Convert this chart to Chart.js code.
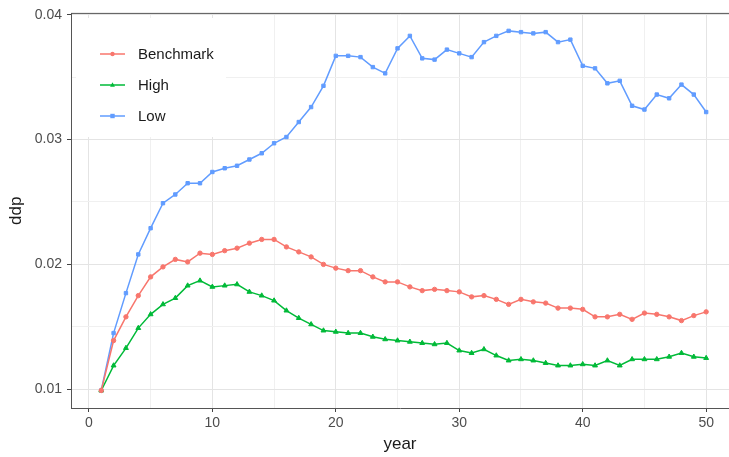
<!DOCTYPE html>
<html lang="en">
<head>
    <meta charset="UTF-8">
    <title>ddp by year</title>
    <script src="https://cdn.jsdelivr.net/npm/chart.js"></script>
    <style>
        body { margin: 0; background: #fff; }
        canvas { display: block; }
    </style>
</head>
<body>
    <canvas id="ddpChart" width="729" height="457"></canvas>
    <script>
        const years = [1,2,3,4,5,6,7,8,9,10,11,12,13,14,15,16,17,18,19,20,
                       21,22,23,24,25,26,27,28,29,30,31,32,33,34,35,36,37,38,39,40,
                       41,42,43,44,45,46,47,48,49,50];

        const benchmark = [0.0099,0.0139,0.0158,0.0175,0.0190,0.0198,0.0204,0.0202,0.0209,0.0208,
                           0.0211,0.0213,0.0217,0.0220,0.0220,0.0214,0.0210,0.0206,0.0200,0.0197,
                           0.0195,0.0195,0.0190,0.0186,0.0186,0.0182,0.0179,0.0180,0.0179,0.0178,
                           0.0174,0.0175,0.0172,0.0168,0.0172,0.0170,0.0169,0.0165,0.0165,0.0164,
                           0.0158,0.0158,0.0160,0.0156,0.0161,0.0160,0.0158,0.0155,0.0159,0.0162];

        const high = [0.0099,0.0119,0.0133,0.0149,0.0160,0.0168,0.0173,0.0183,0.0187,0.0182,
                      0.0183,0.0184,0.0178,0.0175,0.0171,0.0163,0.0157,0.0152,0.0147,0.0146,
                      0.0145,0.0145,0.0142,0.0140,0.0139,0.0138,0.0137,0.0136,0.0137,0.0131,
                      0.0129,0.0132,0.0127,0.0123,0.0124,0.0123,0.0121,0.0119,0.0119,0.0120,
                      0.0119,0.0123,0.0119,0.0124,0.0124,0.0124,0.0126,0.0129,0.0126,0.0125];

        const low = [0.0099,0.0145,0.0177,0.0208,0.0229,0.0249,0.0256,0.0265,0.0265,0.0274,
                     0.0277,0.0279,0.0284,0.0289,0.0297,0.0302,0.0314,0.0326,0.0343,0.0367,
                     0.0367,0.0366,0.0358,0.0353,0.0373,0.0383,0.0365,0.0364,0.0372,0.0369,
                     0.0366,0.0378,0.0383,0.0387,0.0386,0.0385,0.0386,0.0378,0.0380,0.0359,
                     0.0357,0.0345,0.0347,0.0327,0.0324,0.0336,0.0333,0.0344,0.0336,0.0322];

        const seriesNames = ['Benchmark', 'High', 'Low'];
        const seriesColors = ['#F8766D', '#00BA38', '#619CFF'];
        const yTicks = [0.01, 0.02, 0.03, 0.04];

        const FONT = "'Liberation Sans', Arial, sans-serif";

        function toPoints(vals) {
            return years.map((y, i) => ({ x: y, y: vals[i] }));
        }

        function makeSet(i, vals, style, radius) {
            return {
                label: seriesNames[i],
                data: toPoints(vals),
                borderColor: seriesColors[i],
                backgroundColor: seriesColors[i],
                borderWidth: 1.5,
                tension: 0,
                pointStyle: style,
                pointRadius: radius,
                pointBorderWidth: 1,
                pointHoverRadius: radius
            };
        }

        // ggplot-style legend drawn inside the panel, top-left
        function drawMarker(ctx, style, x, y, r) {
            ctx.beginPath();
            if (style === 'circle') {
                ctx.arc(x, y, r, 0, Math.PI * 2);
            } else if (style === 'triangle') {
                ctx.moveTo(x, y - r * 1.2);
                ctx.lineTo(x + r * 1.1, y + r * 0.8);
                ctx.lineTo(x - r * 1.1, y + r * 0.8);
                ctx.closePath();
            } else {
                ctx.rect(x - r, y - r, r * 2, r * 2);
            }
            ctx.fill();
        }

        const insideLegend = {
            id: 'insideLegend',
            beforeDatasetsDraw(chart) {
                const ctx = chart.ctx;
                ctx.save();
                ctx.fillStyle = '#fff';
                ctx.fillRect(76, 18, 150, 119);
                chart.data.datasets.forEach((ds, i) => {
                    const y = 54 + i * 31;
                    ctx.strokeStyle = ds.borderColor;
                    ctx.fillStyle = ds.borderColor;
                    ctx.lineWidth = 1.5;
                    ctx.beginPath();
                    ctx.moveTo(100, y);
                    ctx.lineTo(125, y);
                    ctx.stroke();
                    drawMarker(ctx, ds.pointStyle, 112.5, y, 2.2);
                    ctx.fillStyle = '#1a1a1a';
                    ctx.font = '15px ' + FONT;
                    ctx.textBaseline = 'middle';
                    ctx.textAlign = 'left';
                    ctx.fillText(ds.label, 138, y + 1);
                });
                ctx.restore();
            },
            afterDraw(chart) {
                // top edge of the panel border
                const a = chart.chartArea;
                const ctx = chart.ctx;
                ctx.save();
                ctx.strokeStyle = '#555';
                ctx.lineWidth = 1;
                ctx.beginPath();
                ctx.moveTo(a.left, a.top);
                ctx.lineTo(a.right, a.top);
                ctx.stroke();
                ctx.restore();
            }
        };

        const ctx = document.getElementById('ddpChart').getContext('2d');
        new Chart(ctx, {
            type: 'line',
            data: {
                datasets: [
                    makeSet(0, benchmark, 'circle', 2.2),
                    makeSet(1, high, 'triangle', 2.8),
                    makeSet(2, low, 'rect', 2.4)
                ]
            },
            options: {
                responsive: false,
                animation: false,
                events: [],
                layout: { autoPadding: false, padding: { top: 11, right: 0, bottom: 0, left: 0 } },
                plugins: { legend: { display: false }, tooltip: { enabled: false } },
                scales: {
                    x: {
                        type: 'linear',
                        min: -1.45,
                        max: 51.85,
                        afterBuildTicks: (s) => { s.ticks = [0,5,10,15,20,25,30,35,40,45,50].map(v => ({ value: v })); },
                        afterFit: (s) => { s.height = 49; },
                        border: { display: true, color: '#555', width: 1 },
                        grid: {
                            color: (c) => (c.tick && c.tick.value % 10 === 0) ? '#E4E4E4' : '#F0F0F0',
                            lineWidth: 1,
                            tickLength: 4,
                            tickColor: (c) => (c.tick && c.tick.value % 10 === 0) ? '#444' : 'rgba(0,0,0,0)'
                        },
                        ticks: {
                            autoSkip: false,
                            maxRotation: 0,
                            padding: 3,
                            color: '#4D4D4D',
                            font: { family: FONT, size: 14 },
                            callback: (v) => (v % 10 === 0 ? String(v) : '')
                        },
                        title: {
                            display: true,
                            text: 'year',
                            color: '#1a1a1a',
                            font: { family: FONT, size: 17 },
                            padding: { top: 0, bottom: 2 }
                        }
                    },
                    y: {
                        min: 0.0085,
                        max: 0.0401,
                        afterBuildTicks: (s) => {
                            s.ticks = [0.01, 0.015, 0.02, 0.025, 0.03, 0.035, 0.04].map(v => ({ value: v }));
                        },
                        afterFit: (s) => { s.width = 71; },
                        border: { display: true, color: '#555', width: 1 },
                        grid: {
                            color: (c) => (c.tick && yTicks.some(t => Math.abs(t - c.tick.value) < 1e-6)) ? '#E4E4E4' : '#F0F0F0',
                            lineWidth: 1,
                            tickLength: 4,
                            tickColor: (c) => (c.tick && yTicks.some(t => Math.abs(t - c.tick.value) < 1e-6)) ? '#444' : 'rgba(0,0,0,0)'
                        },
                        ticks: {
                            autoSkip: false,
                            padding: 5,
                            color: '#4D4D4D',
                            font: { family: FONT, size: 14 },
                            callback: (v) => {
                                const hit = yTicks.find(t => Math.abs(t - v) < 1e-6);
                                return hit !== undefined ? hit.toFixed(2) : '';
                            }
                        },
                        title: {
                            display: true,
                            text: 'ddp',
                            color: '#1a1a1a',
                            font: { family: FONT, size: 17 },
                            padding: { top: 6, bottom: 0 }
                        }
                    }
                }
            },
            plugins: [insideLegend]
        });
    </script>
</body>
</html>
